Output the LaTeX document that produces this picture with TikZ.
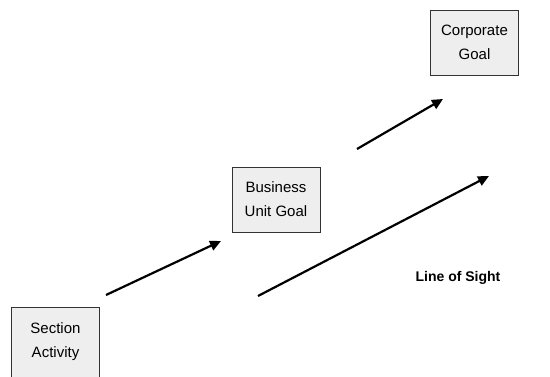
\documentclass[tikz,border=0pt]{standalone}
\usepackage{fontspec}
\setmainfont{Liberation Sans}
\usepackage{tikz}
\usetikzlibrary{arrows.meta}
\definecolor{boxfill}{RGB}{238,238,238}
\definecolor{boxline}{RGB}{50,50,50}

\begin{document}
\begin{tikzpicture}[x=1pt, y=1pt, >={Triangle[length=11pt,width=10pt]},
    every node/.style={font=\fontsize{15}{24}\selectfont},
    goalbox/.style={draw=boxline, fill=boxfill, line width=0.9pt, align=center,
      minimum width=88pt, minimum height=65pt, inner sep=0pt},
    linkarrow/.style={->, line width=2.2pt}]
  \useasboundingbox (0,0) rectangle (550,376);

  % Goal boxes
  \node[goalbox, minimum height=70pt] (sec) at (55.5,34) {Section\\Activity};
  \node[goalbox] (bug) at (276,176.5) {Business\\Unit Goal};
  \node[goalbox] (cor) at (474.5,333.5) {Corporate\\Goal};

  % Arrow ends
  \coordinate (a1s) at (106,81);
  \coordinate (a1e) at (221,135);
  \coordinate (a2s) at (357,227);
  \coordinate (a2e) at (443,277);
  \coordinate (loss) at (258,80);
  \coordinate (lose) at (489,200);

  % Arrows
  \draw[linkarrow] (a1s) -- (a1e);
  \draw[linkarrow] (a2s) -- (a2e);
  \draw[linkarrow] (loss) -- (lose);

  % Label
  \node[font=\fontsize{14}{24}\selectfont\bfseries] (los) at (458,98) {Line of Sight};
\end{tikzpicture}
\end{document}
